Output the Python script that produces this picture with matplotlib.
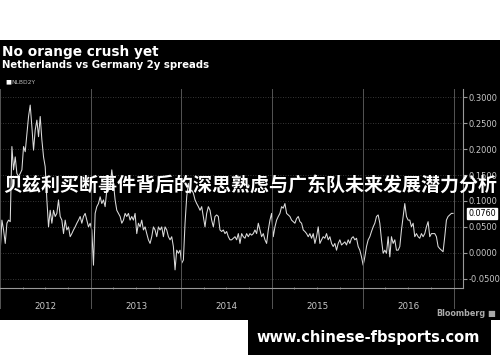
import matplotlib
matplotlib.use("Agg")
import matplotlib.pyplot as plt
import matplotlib.dates as mdates
from matplotlib.patches import Rectangle
import pandas as pd

plt.rcParams['font.family'] = ['DejaVu Sans', 'Noto Sans CJK SC']

# NLBD2Y spread, roughly weekly (Jan 2012 - Dec 2016)
spread = [
    0.005, 0.063, 0.044, 0.018, 0.057, 0.063, 0.060, 0.205, 0.160, 0.185,
    0.153, 0.147, 0.153, 0.160, 0.205, 0.195, 0.230, 0.263, 0.285, 0.243,
    0.198, 0.237, 0.256, 0.224, 0.263, 0.218, 0.185, 0.166, 0.102, 0.050,
    0.082, 0.057, 0.082, 0.070, 0.076, 0.102, 0.070, 0.063, 0.037, 0.063,
    0.044, 0.050, 0.031, 0.037, 0.044, 0.050, 0.057, 0.063, 0.070, 0.057,
    0.070, 0.076, 0.063, 0.050, 0.057, 0.044, -0.024, 0.076, 0.089, 0.095,
    0.108, 0.095, 0.102, 0.089, 0.121, 0.121, 0.127, 0.160, 0.134, 0.102,
    0.082, 0.076, 0.070, 0.057, 0.063, 0.076, 0.070, 0.076, 0.063, 0.070,
    0.063, 0.076, 0.037, 0.057, 0.050, 0.063, 0.044, 0.050, 0.037, 0.025,
    0.018, 0.031, 0.050, 0.044, 0.031, 0.050, 0.044, 0.050, 0.031, 0.050,
    0.044, 0.031, 0.025, 0.031, 0.012, -0.033, 0.005, -0.001, 0.005, -0.020,
    -0.014, 0.057, 0.108, 0.134, 0.115, 0.121, 0.115, 0.102, 0.095, 0.089,
    0.082,
    0.089, 0.070, 0.050, 0.076, 0.089, 0.082, 0.063, 0.050, 0.070, 0.073,
    0.070, 0.044, 0.041, 0.044, 0.037, 0.041, 0.031, 0.025, 0.025, 0.028,
    0.031, 0.025, 0.037, 0.018, 0.037, 0.031, 0.028, 0.037, 0.031, 0.037,
    0.034, 0.037, 0.044, 0.037, 0.057, 0.044, 0.031, 0.037, 0.025, 0.018,
    0.044, 0.063, 0.076, 0.031, 0.050, 0.063, 0.070, 0.076, 0.089, 0.086,
    0.095, 0.076, 0.073, 0.070, 0.063, 0.060, 0.057, 0.066, 0.070, 0.060,
    0.057, 0.044, 0.041, 0.037, 0.031, 0.037, 0.028, 0.037, 0.018, 0.031,
    0.050, 0.018, 0.025, 0.031, 0.028, 0.037, 0.025, 0.031, 0.018, 0.012,
    0.018, 0.005, 0.018, 0.025, 0.015, 0.018, 0.021, 0.015, 0.025, 0.018,
    0.028, 0.031, 0.025, 0.028, 0.012, 0.005, -0.008, -0.024, -0.008, 0.012,
    0.025, 0.031, 0.041, 0.050, 0.057, 0.070, 0.073, 0.057, 0.025, -0.001,
    0.005, -0.001, 0.031, -0.008, 0.031, 0.018, 0.025, 0.005, 0.005, 0.012,
    0.044, 0.070, 0.095, 0.070, 0.063, 0.063, 0.050, 0.057, 0.031, 0.037,
    0.031, 0.028, 0.037, 0.031, 0.037, 0.050, 0.060, 0.031, 0.037, 0.037,
    0.037, 0.031, 0.012, 0.008, 0.005, 0.002, 0.031, 0.063, 0.070, 0.073,
    0.076, 0.076,
]
dates = pd.date_range('2012-01-02', '2016-12-30', periods=len(spread))

yticks = [-0.05, 0.0, 0.05, 0.10, 0.15, 0.20, 0.25, 0.30]
years = [2012, 2013, 2014, 2015, 2016]
overlay = "贝兹利买断事件背后的深思熟虑与广东队未来发展潜力分析"

fig = plt.figure(figsize=(5, 3.62), dpi=100, facecolor='white')
fig.add_artist(Rectangle((0, 0.116), 1, 0.774, transform=fig.transFigure,
                         facecolor='black', edgecolor='none', zorder=-5))

ax = fig.add_axes([0.0, 0.2044, 0.926, 0.5497])
ax.set_facecolor('black')
ax.plot(dates, spread, color='#dcdcdc', lw=0.75)

ax.set_xlim(pd.Timestamp('2012-01-01'), pd.Timestamp('2017-02-08'))
ax.set_ylim(-0.068, 0.316)

# y axis on the right
ax.yaxis.tick_right()
ax.set_yticks(yticks)
ax.set_yticklabels([f"{v:.4f}" for v in yticks])
ax.tick_params(axis='y', colors='#9a9a9a', labelsize=6.0, length=3, pad=1,
               labelcolor='#c8c8c8')
ax.grid(axis='y', color='#4a4a4a', linestyle=(0, (1, 2)), lw=0.6)

# year labels in the middle of each year, boundaries as lines
ax.set_xticks([pd.Timestamp(f'{y}-07-02') for y in years])
ax.set_xticklabels([str(y) for y in years])
ax.xaxis.set_minor_locator(mdates.MonthLocator(bymonth=[1, 4, 7, 10]))
ax.tick_params(axis='x', which='major', length=0, pad=10, labelsize=6.3,
               labelcolor='#c8c8c8')
ax.tick_params(axis='x', which='minor', length=2, color='#888888',
               direction='inout')
for y in years + [2017]:
    ax.axvline(pd.Timestamp(f'{y}-01-01'), ymin=-0.1, ymax=1, color='#555555',
               lw=0.7, clip_on=False)

for s in ['top', 'left']:
    ax.spines[s].set_visible(False)
ax.spines['right'].set_color('#999999')
ax.spines['bottom'].set_color('#999999')
ax.spines['right'].set_linewidth(0.8)
ax.spines['bottom'].set_linewidth(0.8)

# last value tag
ax.annotate(f"{spread[-1]:.4f}", xy=(1.0, spread[-1]),
            xycoords=('axes fraction', 'data'), xytext=(4, 0),
            textcoords='offset points', va='center', ha='left', fontsize=5.8,
            color='black',
            bbox=dict(boxstyle='square,pad=0.15', fc='white', ec='white'),
            annotation_clip=False)

# titles
fig.text(0.004, 0.856, "No orange crush yet", color='white', fontsize=9.8,
         fontweight='bold', va='center', ha='left')
fig.text(0.004, 0.820, "Netherlands vs Germany 2y spreads", color='white',
         fontsize=7.3, fontweight='bold', va='center', ha='left')
fig.text(0.01, 0.773, "■", color='white', fontsize=4.5, va='center', ha='left')
fig.text(0.022, 0.773, "NLBD2Y", color='#bbbbbb', fontsize=4.3, va='center',
         ha='left')
fig.text(0.97, 0.133, "Bloomberg", color='#aaaaaa', fontsize=5.8,
         fontweight='bold', va='center', ha='right')
fig.text(0.975, 0.133, "■", color='#aaaaaa', fontsize=6, va='center',
         ha='left')

# overlay headline
fig.text(0.5, 0.489, overlay, color='white', fontsize=13.7, fontweight='bold',
         family=['Noto Sans CJK SC', 'DejaVu Sans'], va='center', ha='center')

# watermark box
fig.add_artist(Rectangle((0.496, 0.019), 0.486, 0.097,
                         transform=fig.transFigure, facecolor='black',
                         edgecolor='none'))
fig.text(0.736, 0.068, "www.chinese-fbsports.com", color='white',
         fontsize=10.5, fontweight='bold', va='center', ha='center')

fig.savefig('out.png', dpi=100, facecolor='white')
